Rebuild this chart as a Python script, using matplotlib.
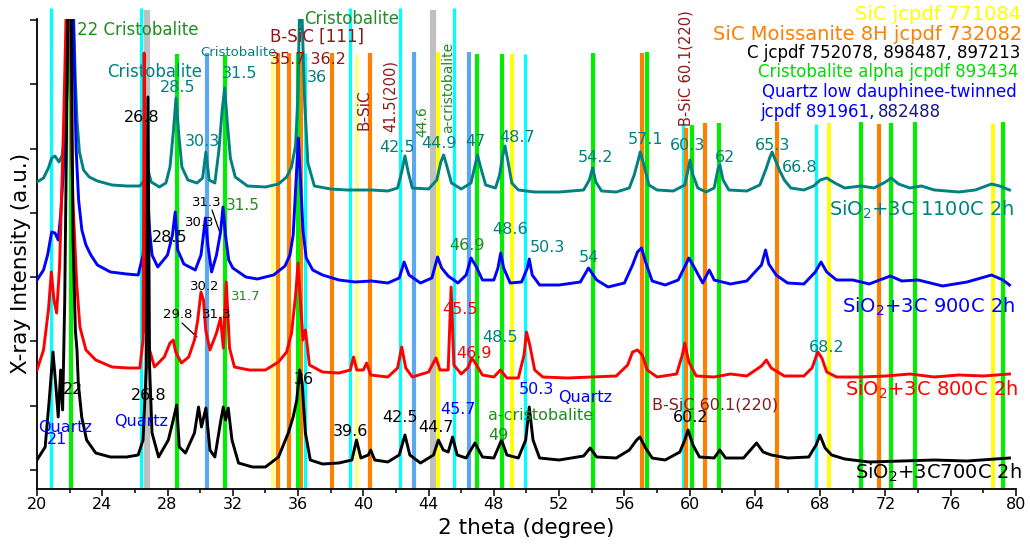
import numpy as np
import matplotlib
matplotlib.use('Agg')
import matplotlib.pyplot as plt
from matplotlib.transforms import Affine2D

plt.rcParams['font.family'] = ['DejaVu Sans']

# ---------------- data (2 theta in degree, intensity in a.u.) ----------------
x_1100 = [20.0, 20.4, 20.7, 20.9, 21.1, 21.35, 21.55, 21.7, 21.85, 21.95, 22.1, 22.25, 22.35, 22.45, 22.6,
          22.85, 23.2, 23.7, 24.6, 25.5, 26.3, 26.6, 26.8, 27.0, 27.5, 27.9, 28.15, 28.35, 28.52, 28.68,
          28.88, 29.25, 29.8, 30.15, 30.35, 30.55, 30.9, 31.15, 31.35, 31.5, 31.65, 31.85, 32.15, 32.9,
          34.0, 34.8, 35.3, 35.6, 35.85, 35.98, 36.08, 36.15, 36.25, 36.4, 36.6, 37.0, 38.0, 39.0, 40.5,
          41.5, 42.1, 42.35, 42.55, 42.75, 43.0, 44.0, 44.5, 44.75, 44.92, 45.1, 45.4, 46.0, 46.6, 46.85,
          47.0, 47.2, 47.5, 48.1, 48.35, 48.55, 48.68, 48.85, 49.1, 49.5, 50.5, 52.0, 53.5, 53.85, 54.05,
          54.25, 54.6, 55.5, 56.3, 56.6, 56.85, 56.97, 57.2, 57.5, 58.0, 59.0, 59.7, 59.9, 60.02, 60.2,
          60.5, 61.0, 61.5, 61.75, 61.85, 62.05, 62.4, 63.5, 64.3, 64.7, 64.9, 65.05, 65.25, 65.5, 65.8,
          66.2, 67.0, 67.6, 68.0, 68.4, 68.9, 69.5, 70.5, 71.3, 72.0, 72.35, 72.8, 73.5, 74.2, 75.0,
          76.5, 77.5, 78.5, 79.0, 79.6]
y_1100 = [307, 311, 321, 331, 333, 327, 334, 354, 399, 449, 529, 469, 409, 369, 337,
          319, 312, 308, 304, 303, 303, 309, 319, 307, 302, 306, 322, 356, 391, 356,
          322, 309, 306, 311, 337, 309, 306, 339, 379, 401, 369, 331, 312, 303,
          302, 305, 312, 322, 344, 389, 469, 509, 469, 389, 326, 303, 300, 299, 299,
          298, 301, 317, 333, 317, 301, 300, 309, 327, 334, 324, 306, 300, 306, 324,
          334, 321, 304, 301, 314, 334, 343, 329, 306, 299, 297, 297, 299, 309, 321,
          307, 298, 297, 301, 314, 329, 337, 324, 304, 299, 298, 304, 319, 329, 314,
          301, 297, 301, 321, 324, 309, 299, 298, 304, 321, 331, 337, 329, 319, 309,
          301, 299, 303, 309, 311, 306, 301, 303, 301, 307, 311, 305, 301, 303, 299,
          297, 299, 305, 303, 299]

x_900 = [20.0, 20.4, 20.65, 20.9, 21.1, 21.3, 21.45, 21.6, 21.75, 21.9, 22.0, 22.15, 22.28, 22.4, 22.55,
         22.75, 23.0, 23.3, 23.7, 24.5, 25.5, 26.2, 26.5, 26.65, 26.78, 26.9, 27.05, 27.4, 28.0, 28.3,
         28.47, 28.62, 29.0, 29.7, 30.05, 30.2, 30.32, 30.47, 30.7, 31.0, 31.25, 31.4, 31.55, 31.75,
         32.0, 32.8, 33.5, 34.5, 35.2, 35.5, 35.7, 35.88, 36.02, 36.15, 36.3, 36.5, 36.9, 37.5, 38.5,
         39.5, 40.5, 41.5, 42.2, 42.5, 42.8, 43.5, 44.2, 44.55, 44.8, 45.2, 45.8, 46.3, 46.6, 46.9,
         47.3, 48.0, 48.25, 48.42, 48.6, 49.0, 49.7, 50.05, 50.17, 50.35, 50.8, 52.0, 53.3, 53.8, 54.3,
         55.0, 56.0, 56.5, 56.8, 57.05, 57.3, 57.7, 58.5, 59.3, 59.75, 59.95, 60.3, 60.8, 61.2, 61.5,
         62.5, 63.5, 64.0, 64.4, 64.65, 64.85, 65.3, 66.0, 67.0, 67.7, 68.05, 68.4, 69.0, 70.0, 71.0,
         72.3, 73.0, 74.0, 75.5, 77.0, 78.5, 79.2, 79.6]
y_900 = [209, 219, 234, 257, 256, 249, 274, 314, 379, 459, 529, 529, 429, 339, 289,
         259, 244, 234, 224, 217, 215, 214, 234, 264, 294, 259, 234, 222, 234, 254,
         277, 239, 225, 219, 234, 254, 271, 244, 217, 234, 257, 282, 254, 229,
         221, 212, 210, 214, 223, 234, 254, 309, 351, 309, 259, 231, 219, 214, 209,
         207, 208, 206, 211, 227, 214, 206, 211, 232, 221, 213, 206, 214, 231, 223,
         209, 209, 221, 236, 221, 206, 207, 221, 230, 214, 204, 204, 207, 221, 209,
         202, 206, 224, 237, 241, 227, 208, 204, 209, 224, 231, 221, 206, 219, 209,
         205, 208, 217, 224, 239, 225, 214, 206, 205, 217, 227, 217, 209, 209, 205,
         213, 208, 209, 203, 207, 214, 209, 204]

x_800 = [20.0, 20.4, 20.7, 20.88, 21.04, 21.2, 21.38, 21.5, 21.62, 21.75, 21.85, 22.05, 22.12, 22.2, 22.43,
         22.63, 23.0, 23.6, 24.6, 25.6, 26.3, 26.5, 26.57, 26.65, 26.9, 27.2, 27.8, 28.15, 28.35, 28.5,
         28.85, 29.3, 29.65, 29.85, 30.05, 30.2, 30.34, 30.6, 31.0, 31.25, 31.42, 31.6, 31.8, 32.1,
         33.0, 34.0, 34.8, 35.3, 35.6, 35.85, 36.0, 36.12, 36.3, 36.45, 36.7, 37.5, 38.5, 39.2, 39.4,
         39.6, 40.0, 40.2, 40.45, 41.5, 42.1, 42.35, 42.6, 43.0, 44.0, 44.45, 44.7, 45.2, 45.38, 45.55,
         46.0, 46.4, 46.65, 46.9, 47.3, 48.0, 48.4, 48.8, 49.5, 49.85, 50.0, 50.2, 50.5, 51.0, 52.5,
         54.0, 55.5, 56.2, 56.5, 56.8, 57.1, 57.4, 58.0, 59.2, 59.55, 59.7, 59.95, 60.4, 61.5, 62.5,
         63.5, 64.4, 64.7, 65.0, 65.8, 67.0, 67.5, 67.85, 68.1, 68.4, 69.0, 70.5, 72.0, 73.5, 75.0,
         76.5, 78.0, 79.6]
y_800 = [119, 139, 179, 217, 189, 176, 221, 289, 359, 449, 529, 529, 339, 289, 206,
         162, 139, 129, 122, 121, 121, 149, 436, 159, 139, 122, 132, 146, 149, 137,
         126, 132, 149, 169, 197, 189, 159, 139, 156, 171, 141, 207, 141, 122,
         119, 119, 127, 137, 156, 194, 226, 194, 149, 159, 124, 117, 116, 119, 132,
         119, 119, 126, 114, 112, 121, 142, 121, 112, 117, 131, 119, 119, 202, 124,
         115, 121, 131, 125, 114, 112, 119, 111, 111, 134, 157, 144, 119, 112, 111,
         112, 113, 124, 137, 139, 134, 119, 112, 115, 134, 146, 127, 113, 112, 115,
         113, 123, 129, 121, 113, 113, 121, 137, 131, 117, 112, 112, 113, 115, 112,
         114, 113, 115]

x_700 = [20.0, 20.5, 20.75, 20.98, 21.15, 21.3, 21.45, 21.57, 21.7, 21.8, 21.92, 22.08, 22.2, 22.35, 22.45,
         22.53, 22.74, 23.04, 23.6, 24.5, 25.5, 26.2, 26.5, 26.7, 26.8, 26.9, 27.05, 27.45, 28.05, 28.35,
         28.56, 28.72, 29.1, 29.65, 29.9, 30.08, 30.35, 30.6, 30.9, 31.27, 31.42, 31.56, 31.72, 31.95,
         32.35, 33.2, 34.0, 34.8, 35.4, 35.7, 35.92, 36.1, 36.25, 36.45, 36.75, 37.5, 38.5, 39.3, 39.58,
         39.85, 40.3, 40.45, 40.7, 41.5, 42.2, 42.55, 42.85, 43.5, 44.3, 44.6, 44.9, 45.2, 45.47, 45.75,
         46.3, 46.84, 47.3, 48.0, 48.47, 48.8, 49.5, 49.95, 50.17, 50.4, 50.8, 52.0, 53.5, 53.9, 54.3,
         55.5, 56.3, 56.75, 56.95, 57.3, 57.7, 58.5, 59.4, 59.7, 59.9, 60.2, 60.6, 61.5, 61.85, 62.2,
         63.3, 64.1, 64.5, 65.0, 66.0, 67.3, 67.75, 67.98, 68.3, 68.7, 69.5, 71.0, 73.0, 75.0, 77.0,
         79.6]
y_700 = [29, 42, 89, 137, 104, 72, 119, 79, 189, 339, 529, 529, 256, 159, 139,
         106, 72, 49, 36, 32, 32, 34, 49, 122, 392, 122, 56, 32, 49, 69,
         84, 42, 36, 56, 82, 62, 81, 39, 32, 69, 82, 69, 81, 49,
         26, 22, 22, 32, 56, 72, 89, 119, 106, 56, 29, 25, 26, 29, 49,
         31, 34, 39, 29, 27, 34, 54, 34, 26, 34, 49, 39, 37, 52, 34,
         31, 46, 32, 31, 49, 34, 31, 49, 82, 49, 31, 29, 33, 41, 32,
         31, 39, 49, 52, 41, 31, 29, 37, 49, 59, 44, 32, 31, 39, 31,
         31, 46, 37, 34, 31, 32, 44, 54, 41, 34, 30, 27, 28, 29, 28,
         31]

# reference (jcpdf) line positions and drawn heights
cyan_pos = [20.85, 26.40, 36.42, 39.17, 42.24, 45.55, 49.93, 59.62, 67.72]
cyan_top = [481, 481, 436, 481, 481, 481, 435, 366, 365]
cristobalite_pos = [22.07, 28.57, 31.53, 35.98, 46.96, 48.50, 54.07, 57.36, 60.17, 61.79, 70.48, 72.35, 73.80, 79.20]
cristobalite_top = [436, 435, 434, 436, 435, 435, 436, 437, 364, 366, 367, 366, 367, 367]
quartz_pos = [30.42, 43.08, 46.47]
quartz_top = [436, 437, 437]
moissanite_pos = [34.74, 35.43, 36.20, 38.08, 40.38, 57.05, 59.77, 60.97, 65.36, 71.60]
moissanite_top = [436, 436, 436, 436, 436, 436, 361, 366, 367, 365]
sic_pos = [44.56, 49.12, 68.55, 78.60]
sic_top = [437, 435, 366, 365]
sic_pale_pos = [34.45, 39.62]
sic_pale_top = [434, 434]
carbon_pos = [26.75, 44.25]
carbon_top = [479, 479]

x_ticks = list(range(20, 81, 4))

# ---------------- figure ----------------
W, H = 1030, 545
fig = plt.figure(figsize=(W / 100, H / 100), dpi=100)
ax = fig.add_axes([37 / W, 56 / H, 979 / W, 470 / H])
PX = Affine2D().scale(1 / W, -1 / H).translate(0, 1) + fig.transFigure

TEAL = '#008080'
DGREEN = '#1f8c1f'
DRED = '#8b1a1a'
BLUE = '#0000ff'

refs = [
    (carbon_pos, carbon_top, '#c0c0c0', 4.5),
    (cyan_pos, cyan_top, '#00ffff', 2.3),
    (sic_pale_pos, sic_pale_top, '#ffff88', 2.8),
    (sic_pos, sic_top, '#ffff00', 2.8),
    (moissanite_pos, moissanite_top, '#ff8000', 3.0),
    (quartz_pos, quartz_top, '#5ca8f0', 3.0),
    (cristobalite_pos, cristobalite_top, '#00ee00', 3.0),
]
for pos, top, col, lw in refs:
    ax.vlines(pos, 0, top, colors=col, linewidth=lw, zorder=1, clip_on=False)

LW = 2.1
ax.plot(x_1100, y_1100, color=TEAL, lw=LW, zorder=3)
ax.plot(x_900, y_900, color=BLUE, lw=LW, zorder=4)
ax.plot(x_800, y_800, color='red', lw=LW, zorder=5)
ax.plot(x_700, y_700, color='black', lw=LW, zorder=6)

ax.set_xlim(20, 80)
ax.set_ylim(0, 470)
ax.set_xticks(x_ticks)
ax.set_xticks(np.arange(22, 80, 4), minor=True)
ax.set_yticks(np.arange(19, 471, 64.3))
ax.set_yticklabels([])
ax.tick_params(axis='x', which='major', direction='out', length=5, width=1.1, labelsize=11.5, pad=1)
ax.tick_params(axis='x', which='minor', direction='out', length=3, width=1.1)
ax.tick_params(axis='y', which='major', direction='out', length=5, width=1.1)
for s in ['top', 'right']:
    ax.spines[s].set_visible(False)
for s in ['left', 'bottom']:
    ax.spines[s].set_linewidth(1.3)

ax.set_xlabel('2 theta (degree)', fontsize=15.5)
ax.xaxis.set_label_coords(0.5, -0.062)
ax.set_ylabel('X-ray Intensity (a.u.)', fontsize=15.5)
ax.yaxis.set_label_coords(-0.006, 0.48)


def lab(px, py, s, c, fs=11.5, ha='left', rot=0):
    ax.text(px, py, s, color=c, fontsize=fs, transform=PX, ha=ha, va='center',
            rotation=rot, zorder=10)


# legend-like texts at top right
lab(1021, 15, 'SiC jcpdf 771084', '#ffff00', 14, ha='right')
lab(1022, 34, 'SiC Moissanite 8H jcpdf 732082', '#ff8000', 14, ha='right')
lab(1020, 53, 'C jcpdf 752078, 898487, 897213', 'black', 12, ha='right')
lab(1019, 72, 'Cristobalite alpha jcpdf 893434', '#00dd00', 12, ha='right')
lab(1017, 92, 'Quartz low dauphinee-twinned', BLUE, 12, ha='right')
lab(760, 112, 'jcpdf 891961,', BLUE, 12)
lab(878, 112, '882488', '#1a1a80', 12)

# series labels
lab(1015, 210, 'SiO$_2$+3C 1100C 2h', TEAL, 14, ha='right')
lab(1015, 307, 'SiO$_2$+3C 900C 2h', BLUE, 14, ha='right')
lab(1018, 390, 'SiO$_2$+3C 800C 2h', 'red', 14, ha='right')
lab(1022, 473, 'SiO$_2$+3C700C 2h', 'black', 14, ha='right')

# peak annotations
lab(77, 30, '22 Cristobalite', DGREEN, 12)
lab(107, 72, 'Cristobalite', TEAL, 12)
lab(160, 87, '28.5', TEAL)
lab(200, 52, 'Cristobalite', TEAL, 9.5)
lab(222, 73, '31.5', TEAL)
lab(124, 118, '26.8', 'black')
lab(185, 142, '30.3', TEAL)
lab(270, 37, 'B-SiC [111]', DRED, 12)
lab(270, 59, '35.7 36.2', DRED, 11.5)
lab(304, 19, 'Cristobalite', DGREEN, 12)
lab(307, 77, '36', TEAL)
lab(364, 110, 'B-SiC', DRED, 11, ha='center', rot=90)
lab(390, 96, '41.5(200)', DRED, 10.5, ha='center', rot=90)
lab(422, 122, '44.6', DGREEN, 10, ha='center', rot=90)
lab(448, 87, 'a-cristobalite', DGREEN, 10, ha='center', rot=90)
lab(686, 68, 'B-SiC 60.1(220)', DRED, 10.5, ha='center', rot=90)
lab(379, 147, '42.5', TEAL)
lab(421, 143, '44.9', TEAL)
lab(465, 141, '47', TEAL)
lab(499, 137, '48.7', TEAL)
lab(578, 158, '54.2', TEAL)
lab(628, 140, '57.1', TEAL)
lab(670, 145, '60.3', TEAL)
lab(715, 157, '62', TEAL)
lab(755, 145, '65.3', TEAL)
lab(782, 167, '66.8', TEAL)

lab(192, 203, '31.3', 'black', 9.5)
lab(226, 205, '31.5', DGREEN, 11)
lab(185, 223, '30.3', 'black', 9.5)
lab(152, 238, '28.5', 'black')
lab(190, 287, '30.2', 'black', 9.5)
lab(231, 297, '31.7', DGREEN, 9.5)
lab(163, 315, '29.8', 'black', 9.5)
lab(202, 315, '31.3', 'black', 9.5)
lab(449, 245, '46.9', DGREEN)
lab(492, 230, '48.6', TEAL)
lab(530, 248, '50.3', TEAL)
lab(579, 258, '54', TEAL)
lab(442, 309, '45.5', 'red')
lab(482, 337, '48.5', TEAL)
lab(456, 353, '46.9', 'red')
lab(519, 390, '50.3', BLUE)
lab(558, 398, 'Quartz', BLUE)
lab(440, 410, '45.7', BLUE)
lab(488, 415, 'a-cristobalite', DGREEN)
lab(488, 435, '49', DGREEN)
lab(382, 417, '42.5', 'black')
lab(418, 427, '44.7', 'black')
lab(333, 431, '39.6', 'black')
lab(652, 405, 'B-SiC 60.1(220)', DRED, 11.5)
lab(673, 418, '60.2', 'black')
lab(809, 347, '68.2', TEAL)
lab(63, 390, '22', 'black')
lab(131, 396, '26.8', 'black')
lab(38, 427, 'Quartz', BLUE)
lab(47, 440, '21', BLUE)
lab(114, 421, 'Quartz', BLUE)
lab(294, 380, '36', 'black')

# leader lines
ax.annotate('', xy=(220, 233), xytext=(212, 210), xycoords=PX, textcoords=PX,
            arrowprops=dict(arrowstyle='-', color='black', lw=0.9, shrinkA=0, shrinkB=0))
ax.annotate('', xy=(197, 337), xytext=(182, 323), xycoords=PX, textcoords=PX,
            arrowprops=dict(arrowstyle='-', color='black', lw=0.9, shrinkA=0, shrinkB=0))

fig.savefig('out.png', dpi=100)
